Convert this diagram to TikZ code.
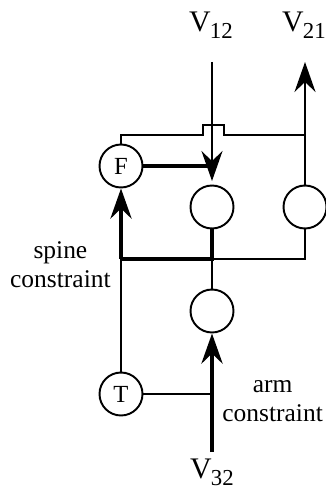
\documentclass[tikz,border=0pt]{standalone}
\usepackage{fontspec}
\setmainfont{Liberation Serif}
\usetikzlibrary{arrows.meta, positioning, calc}
\newcommand{\vsub}[1]{V\kern-0.5pt\raisebox{-0.5ex}{\fontsize{13}{13}\selectfont #1}}

\begin{document}
\begin{tikzpicture}[x=0.02cm, y=-0.02cm,
  unit/.style={circle, draw, line width=1.1pt, minimum size=0.86cm, inner sep=0pt, font=\fontsize{14}{14}\selectfont},
  lab/.style={font=\fontsize{14.5}{16.5}\selectfont, align=center, inner sep=0pt},
  vlab/.style={font=\fontsize{17}{17}\selectfont, inner sep=0pt},
  thinw/.style={line width=1.1pt},
  thickw/.style={line width=2.8pt},
  head/.style={-{Stealth[length=0.6cm, width=0.42cm, inset=0.2cm]}}]
  \useasboundingbox (0,0) rectangle (325,489);

  % units
  \node[unit] (f) at (121,166) {F};
  \node[unit] (m1) at (212,207) {};
  \node[unit] (r1) at (305,207) {};
  \node[unit] (m2) at (212,311) {};
  \node[unit] (t) at (121,394) {T};

  % labels
  \node[vlab] (v12) at (211,25) {\vsub{12}};
  \node[vlab] (v21) at (304,25) {\vsub{21}};
  \node[vlab] (v32) at (212,472) {\vsub{32}};
  \node[lab, anchor=east] (spine) at (111,265) {spine\\constraint};
  \node[lab, anchor=west] (arm) at (222,401) {arm\\constraint};

  % junctions
  \coordinate (in12) at (212,62);
  \coordinate (out21) at (305,62);
  \coordinate (in32) at (212,452);
  \coordinate (jl) at (121,259);
  \coordinate (jm) at (212,259);
  \coordinate (jr) at (305,259);

  % top wire with hop
  \draw[thinw] (f.north) |- (203,135) -- (203,125) -- (224,125) -- (224,135) -| (r1.north);
  \draw[thinw, head, shorten >=2pt] (in12) -- (m1.north);
  \draw[thinw, head] (r1.north) -- (out21);
  \draw[thickw] (f.east) -- (f.east -| m1.north);

  % spine
  \draw[thickw] (m1.south) -- (jm) -- (jl);
  \draw[thickw, head] (jl) -- (f.south);
  \draw[thinw] (jm) -- (jr) -- (r1.south);
  \draw[thinw] (jl) -- (t.north);
  \draw[thinw] (jm) -- (m2.north);

  % arm
  \draw[thinw] (t.east) -- (t.east -| in32);
  \draw[thickw, head] (in32) -- (m2.south);
\end{tikzpicture}
\end{document}
